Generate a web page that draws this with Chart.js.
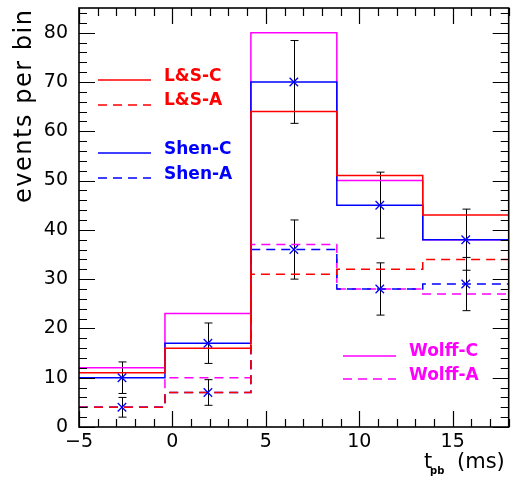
<!DOCTYPE html>
<html><head><meta charset="utf-8">
<script src="https://cdn.jsdelivr.net/npm/chart.js"></script>
<style>html,body{margin:0;padding:0;background:#fff;}canvas{display:block;}</style>
</head><body>
<canvas id="c" width="516" height="482"></canvas>
<script>
// ---- data ----
const binEdges = [-5, -0.4, 4.2, 8.8, 13.4, 18];
const lsC    = [11, 16, 64, 51, 43];
const lsA    = [4, 7, 31, 32, 34];
const shenC  = [10, 17, 70, 45, 38];
const shenA  = [4, 7, 36, 28, 29];
const wolffC = [12, 23, 80, 50, 38];
const wolffA = [4, 10, 37, 28, 27];
const pointX = [-2.7, 1.9, 6.5, 11.1, 15.7];
const dataC  = [10, 17, 70, 45, 38];
const errC   = [3.2, 4.1, 8.4, 6.7, 6.2];
const dataA  = [4, 7, 36, 28, 29];
const errA   = [2.0, 2.6, 6.0, 5.3, 5.4];
const xTicks = [-5, 0, 5, 10, 15];
const yTicks = [0, 10, 20, 30, 40, 50, 60, 70, 80];

const RED = '#ff0000', BLUE = '#0000ff', MAG = '#ff00ff';
const DASH = [9, 6];

function histPts(vals) {
  const pts = vals.map((v, i) => ({x: binEdges[i], y: v}));
  pts.push({x: binEdges[binEdges.length - 1], y: vals[vals.length - 1]});
  return pts;
}
function hist(vals, color, dashed) {
  return {type: 'line', data: histPts(vals), borderColor: color, borderWidth: 1.5,
    borderDash: dashed ? DASH : [], stepped: 'before', pointRadius: 0, fill: false, order: 2};
}
function pts(xs, ys) { return xs.map((x, i) => ({x: x, y: ys[i]})); }

const legendItems = [
  {label: 'L&S-C', color: RED, dashed: false, x0: 98, x1: 151, tx: 164, ly: 80, ty: 77},
  {label: 'L&S-A', color: RED, dashed: true, x0: 98, x1: 151, tx: 164, ly: 105, ty: 101},
  {label: 'Shen-C', color: BLUE, dashed: false, x0: 98, x1: 151, tx: 164, ly: 153, ty: 150},
  {label: 'Shen-A', color: BLUE, dashed: true, x0: 98, x1: 151, tx: 164, ly: 178, ty: 175},
  {label: 'Wolff-C', color: MAG, dashed: false, x0: 343, x1: 396, tx: 409, ly: 356, ty: 352},
  {label: 'Wolff-A', color: MAG, dashed: true, x0: 343, x1: 396, tx: 409, ly: 379, ty: 376}
];

const decor = {
  id: 'decor',
  beforeDatasetsDraw(chart) {
    const ctx = chart.ctx, xs = chart.scales.x, ys = chart.scales.y;
    ctx.save();
    ctx.strokeStyle = '#000'; ctx.lineWidth = 1;
    const draw = (xv, yv, ev) => {
      xv.forEach((x, i) => {
        const px = Math.round(xs.getPixelForValue(x)) + 0.5;
        const t = ys.getPixelForValue(yv[i] + ev[i]);
        const b = ys.getPixelForValue(yv[i] - ev[i]);
        ctx.beginPath();
        ctx.moveTo(px, t); ctx.lineTo(px, b);
        ctx.moveTo(px - 4, t); ctx.lineTo(px + 4, t);
        ctx.moveTo(px - 4, b); ctx.lineTo(px + 4, b);
        ctx.stroke();
      });
    };
    draw(pointX, dataC, errC);
    draw(pointX, dataA, errA);
    ctx.restore();
  },
  afterDraw(chart) {
    const ctx = chart.ctx, a = chart.chartArea, xs = chart.scales.x, ys = chart.scales.y;
    ctx.save();
    // ticks
    ctx.strokeStyle = '#000'; ctx.lineWidth = 1.2;
    ctx.beginPath();
    for (let v = -5; v <= 18; v++) {
      const px = Math.round(xs.getPixelForValue(v)) + 0.5;
      const L = (v % 5 === 0) ? 16 : 8;
      ctx.moveTo(px, a.bottom); ctx.lineTo(px, a.bottom - L);
      ctx.moveTo(px, a.top); ctx.lineTo(px, a.top + L);
    }
    for (let v = 0; v <= 85; v += 2) {
      const py = Math.round(ys.getPixelForValue(v)) + 0.5;
      const L = (v % 10 === 0) ? 16 : 8;
      ctx.moveTo(a.left, py); ctx.lineTo(a.left + L, py);
      ctx.moveTo(a.right, py); ctx.lineTo(a.right - L, py);
    }
    ctx.stroke();
    // frame
    ctx.lineWidth = 1.6;
    ctx.strokeRect(a.left, a.top, a.right - a.left, a.bottom - a.top);
    // legend
    legendItems.forEach(it => {
      ctx.strokeStyle = it.color; ctx.lineWidth = 1.3;
      ctx.setLineDash(it.dashed ? DASH : []);
      ctx.beginPath(); ctx.moveTo(it.x0, it.ly); ctx.lineTo(it.x1, it.ly); ctx.stroke();
      ctx.setLineDash([]);
      ctx.fillStyle = it.color; ctx.font = 'bold 17px "DejaVu Sans"';
      ctx.textAlign = 'left'; ctx.textBaseline = 'middle';
      ctx.fillText(it.label, it.tx, it.ty);
    });
    // y title
    ctx.fillStyle = '#000';
    ctx.save();
    ctx.translate(31, 203);
    ctx.rotate(-Math.PI / 2);
    ctx.font = '24px "DejaVu Sans"';
    const title = 'events per bin';
    const w = ctx.measureText(title).width;
    if ('letterSpacing' in ctx) ctx.letterSpacing = Math.max(0, (193 - w) / (title.length - 1)) + 'px';
    ctx.textAlign = 'left'; ctx.textBaseline = 'alphabetic';
    ctx.fillText(title, 0, 0);
    ctx.restore();
    // x title
    ctx.textAlign = 'left'; ctx.textBaseline = 'alphabetic';
    ctx.font = '21px "DejaVu Sans"';
    ctx.fillText('t', 424, 468);
    ctx.font = 'bold 10px "DejaVu Sans"';
    ctx.fillText('pb', 430, 474);
    ctx.font = '21px "DejaVu Sans"';
    ctx.fillText('(ms)', 457, 468);
    ctx.restore();
  }
};

new Chart(document.getElementById('c'), {
  type: 'line',
  data: {
    datasets: [
      hist(lsC, RED, false), hist(lsA, RED, true),
      hist(shenC, BLUE, false), hist(shenA, BLUE, true),
      hist(wolffC, MAG, false), hist(wolffA, MAG, true),
      {type: 'scatter', data: pts(pointX, dataC), pointStyle: 'crossRot', pointRadius: 6,
        borderColor: BLUE, backgroundColor: BLUE, pointBorderWidth: 1.3, showLine: false, order: 0},
      {type: 'scatter', data: pts(pointX, dataA), pointStyle: 'crossRot', pointRadius: 6,
        borderColor: BLUE, backgroundColor: BLUE, pointBorderWidth: 1.3, showLine: false, order: 0}
    ]
  },
  options: {
    responsive: false, animation: false, devicePixelRatio: 1,
    layout: {padding: {top: 8, right: 3, left: 0, bottom: 0}},
    plugins: {legend: {display: false}, tooltip: {enabled: false}},
    scales: {
      x: {type: 'linear', min: -5, max: 18,
        grid: {display: false, drawTicks: false}, border: {display: false},
        afterBuildTicks: s => { s.ticks = xTicks.map(v => ({value: v})); },
        afterFit: s => { s.height = 55; s.paddingLeft = 0; s.paddingRight = 0; s.paddingTop = 0; s.paddingBottom = 0; },
        ticks: {color: '#000', font: {family: 'DejaVu Sans', size: 19}, padding: 4, maxRotation: 0,
          callback: v => String(v).replace('-', '\u2212')}},
      y: {type: 'linear', min: 0, max: 85,
        grid: {display: false, drawTicks: false}, border: {display: false},
        afterBuildTicks: s => { s.ticks = yTicks.map(v => ({value: v})); },
        afterFit: s => { s.width = 79; s.paddingTop = 0; s.paddingBottom = 0; s.paddingLeft = 0; s.paddingRight = 0; },
        ticks: {color: '#000', font: {family: 'DejaVu Sans', size: 19}, padding: 11}}
    }
  },
  plugins: [decor]
});
</script>
</body></html>
